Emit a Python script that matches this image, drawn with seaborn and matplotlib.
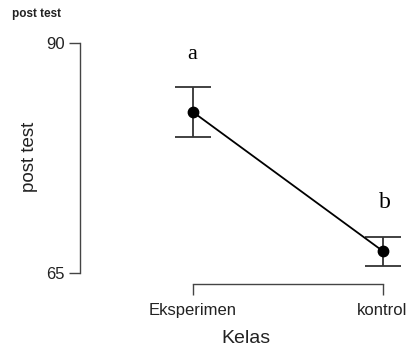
import matplotlib
matplotlib.use("Agg")
import matplotlib.pyplot as plt
import seaborn as sns
import pandas as pd

categories = ["Eksperimen", "kontrol"]
means = [82.5, 67.4]
ci_lower = [79.8, 65.8]
ci_upper = [85.2, 68.9]
letters = ["a", "b"]
y_ticks = [65, 90]

sns.set_theme(style="white")
plt.rcParams['font.family'] = ['Liberation Sans', 'DejaVu Sans']

fig = plt.figure(figsize=(4.11, 3.49), dpi=100)
ax = fig.add_axes([80/411, 65/349, 331/411, 254/349])

df = pd.DataFrame({"Kelas": categories, "post test": means})
sns.pointplot(data=df, x="Kelas", y="post test", errorbar=None, color="black",
              markers="o", markersize=7.5, linewidth=1.3, ax=ax, zorder=3)

xpos = list(range(len(categories)))
yerr = [[m - l for m, l in zip(means, ci_lower)], [u - m for m, u in zip(means, ci_upper)]]
ax.errorbar(xpos, means, yerr=yerr, fmt="none", ecolor="#333333", elinewidth=1.3,
            capsize=13, capthick=1.3, zorder=2)

# letter annotations (placed above the bars)
ax.text(xpos[0] - 0.005, 90 - (55 - 43) / 9.2, letters[0], ha="center", va="center",
        fontsize=16, family=["Liberation Serif"], color="black")
ax.text(xpos[1] + 0.01, 90 - (203 - 43) / 9.2, letters[1], ha="center", va="center",
        fontsize=17, family=["Liberation Serif"], color="black")

ax.set_xlim(-0.595, 1.15)
ax.set_ylim(63.8, 91.41)
ax.set_yticks(y_ticks)
ax.set_yticklabels([str(t) for t in y_ticks])

for s in ["top", "right"]:
    ax.spines[s].set_visible(False)
for s in ["left", "bottom"]:
    ax.spines[s].set_color("#444444")
    ax.spines[s].set_linewidth(1.0)
ax.spines["left"].set_bounds(65, 90)
ax.spines["bottom"].set_bounds(0, 1)

ax.tick_params(axis="both", direction="out", length=8, width=1.0, color="#444444",
               labelsize=12, labelcolor="#222222", left=True, bottom=True, pad=3)
ax.tick_params(axis="x", pad=5.5)

ax.set_xlabel("Kelas", fontsize=14, color="#222222", labelpad=9)
ax.set_ylabel("post test", fontsize=13.5, color="#222222", labelpad=6)
ax.grid(False)

fig.text(12/411, 1 - 14/349, "post test", fontsize=8.5, fontweight="bold",
         ha="left", va="center", color="#222222")

fig.savefig("out.png", dpi=100)
